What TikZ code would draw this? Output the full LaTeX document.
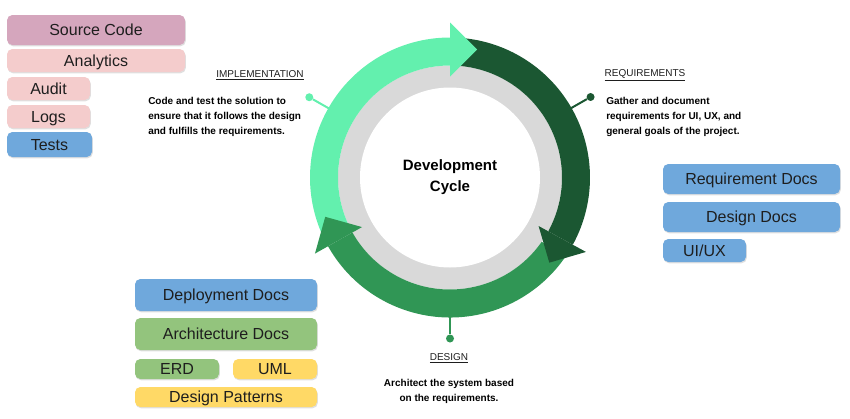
\documentclass[tikz,border=0pt]{standalone}
\usepackage{fontspec}
\setmainfont{Liberation Sans}
\definecolor{ink}{HTML}{1E1E1E}
\definecolor{mauve}{HTML}{D5A6BD}
\definecolor{blush}{HTML}{F4CCCC}
\definecolor{sky}{HTML}{6FA8DC}
\definecolor{sage}{HTML}{93C47D}
\definecolor{sand}{HTML}{FFD966}
\definecolor{mint}{HTML}{63F0AE}
\definecolor{pine}{HTML}{1B5732}
\definecolor{fern}{HTML}{309655}
\definecolor{ringgray}{HTML}{D9D9D9}
\usetikzlibrary{calc,shadows}
\tikzset{
  box/.style={rounded corners=4pt,inner sep=0pt,text=ink,text depth=0pt,
              font=\fontsize{12}{14}\selectfont,
              drop shadow={shadow xshift=0.6pt,shadow yshift=-1pt,opacity=0.25}},
  srcbox/.style={box,fill=mauve},
  pinkbox/.style={box,fill=blush},
  bluebox/.style={box,fill=sky},
  greenbox/.style={box,fill=sage},
  yelbox/.style={box,fill=sand},
  stage/.style={font=\fontsize{7.5}{9}\selectfont,text=ink},
  desc/.style={font=\bfseries\fontsize{7.5}{11.25}\selectfont,text=black,inner sep=0pt},
  dot/.style={circle,inner sep=0pt,minimum size=6pt},
  arc/.style={line width=1.5pt}
}

\begin{document}
\begin{tikzpicture}[x=0.75pt,y=-0.75pt]
  \useasboundingbox (0,0) rectangle (850,418);
  % left stack
  \node[srcbox,minimum width=133.5pt,minimum height=22.5pt] (src) at (96,30) {Source Code};
  \node[pinkbox,minimum width=133.5pt,minimum height=17.25pt] (ana) at (96,60.5) {Analytics};
  \node[pinkbox,minimum width=62.25pt,minimum height=17.25pt] (aud) at (48.5,88.5) {Audit};
  \node[pinkbox,minimum width=62.25pt,minimum height=17.25pt] (logs) at (48.5,116.5) {Logs};
  \node[bluebox,minimum width=63.75pt,minimum height=18.75pt] (tests) at (49.5,144.5) {Tests};
  % right stack
  \node[bluebox,minimum width=132.75pt,minimum height=22.5pt] (reqd) at (751.5,179) {Requirement Docs};
  \node[bluebox,minimum width=132.75pt,minimum height=22.5pt] (desd) at (751.5,217) {Design Docs};
  \node[bluebox,minimum width=62.25pt,minimum height=17.25pt] (uiux) at (704.5,250.5) {UI/UX};
  % bottom stack
  \node[bluebox,minimum width=136.5pt,minimum height=24pt] (depd) at (226,295) {Deployment Docs};
  \node[greenbox,minimum width=136.5pt,minimum height=24pt] (arcd) at (226,334) {Architecture Docs};
  \node[greenbox,minimum width=63pt,minimum height=15pt] (erd) at (177,369) {ERD};
  \node[yelbox,minimum width=63pt,minimum height=15pt] (uml) at (275,369) {UML};
  \node[yelbox,minimum width=136.5pt,minimum height=15pt] (pat) at (226,397) {Design Patterns};

  % stage texts
  \node[stage] (impl) at (260,75) {\underline{IMPLEMENTATION}};
  \node[desc,anchor=west,align=left] (impltxt) at (148,116.5)
       {Code and test the solution to\\ensure that it follows the design\\and fulfills the requirements.};
  \node[stage] (req) at (645,75) {\underline{REQUIREMENTS}};
  \node[desc,anchor=west,align=left] (reqtxt) at (606,116.5)
       {Gather and document\\requirements for UI, UX, and\\general goals of the project.};
  \node[stage] (des) at (449,358) {\underline{DESIGN}};
  \node[desc,align=center] (destxt) at (449,391)
       {Architect the system based\\on the requirements.};

  % cycle
  \coordinate (c) at (450,177.5);
  \begin{scope}[shift={(c)},x=0.75pt,y=0.75pt]
    \fill[ringgray] (0,0) circle (112);
    \fill[white] (0,0) circle (90);
    \node[dot,fill=mint] (impdot) at (150.3:162) {};
    \node[dot,fill=pine] (reqdot) at (29.8:162) {};
    \node[dot,fill=fern] (desdot) at (270:161) {};
    \coordinate (impend) at (150.3:138);
    \coordinate (reqend) at (29.8:138);
    \coordinate (desend) at (270:138);
    \draw[mint,arc] (impend) -- (impdot);
    \draw[pine,arc] (reqend) -- (reqdot);
    \draw[fern,arc] (desend) -- (desdot);
    \fill[mint] (90:140) arc[start angle=90,end angle=205,radius=140]
      -- (205:112) arc[start angle=205,end angle=90,radius=112] -- cycle;
    \fill[pine] (-28.7:140) arc[start angle=-28.7,end angle=85,radius=140]
      -- (85:112) arc[start angle=85,end angle=-28.7,radius=112] -- cycle;
    \fill[fern] (209.4:140) arc[start angle=209.4,end angle=325,radius=140]
      -- (325:112) arc[start angle=325,end angle=209.4,radius=112] -- cycle;
    % arrow heads
    \foreach \a/\col in {90/mint,-28.7/pine,209.4/fern}
      \fill[\col] (\a:101) -- (\a:155) -- ($(\a:128)+(\a-90:27)$) -- cycle;
    \node[font=\bfseries\fontsize{11.25}{15.75}\selectfont,align=center,text=black] (title) at (0,0)
      {Development\\Cycle};
  \end{scope}
\end{tikzpicture}
\end{document}
